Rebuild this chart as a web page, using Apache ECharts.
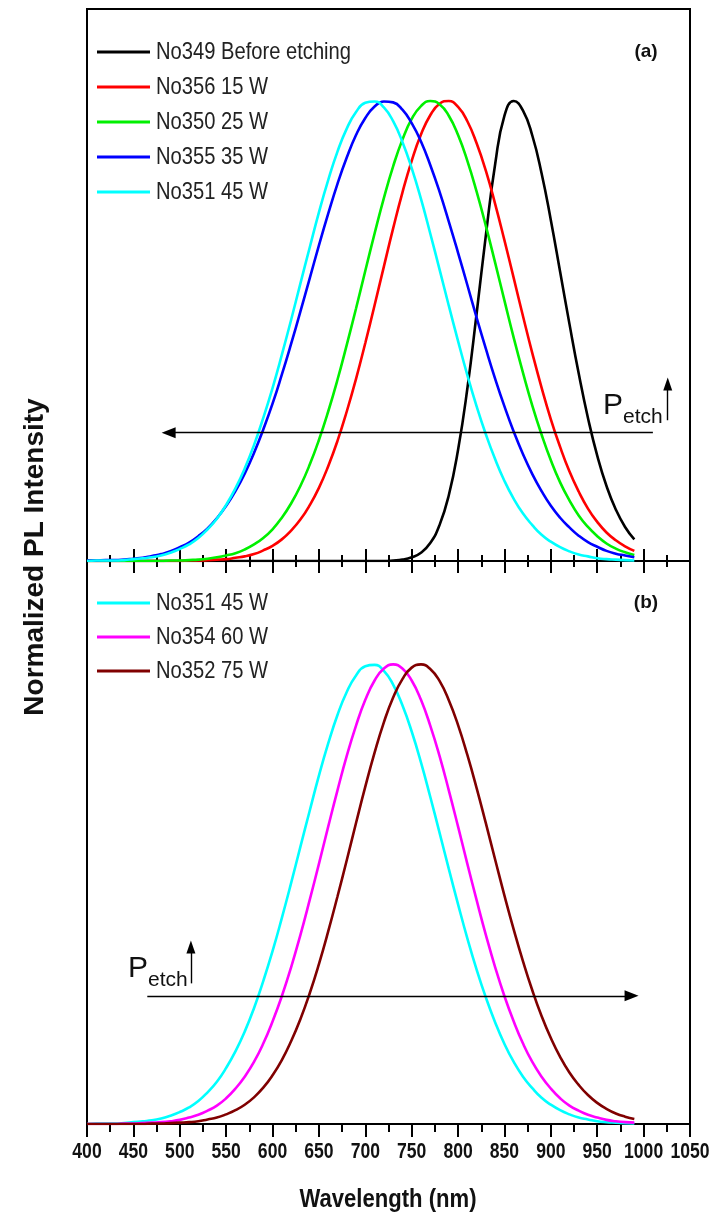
<!DOCTYPE html>
<html>
<head>
<meta charset="utf-8">
<script src="https://cdn.jsdelivr.net/npm/echarts@6/dist/echarts.min.js"></script>
<style>
  html, body { margin: 0; padding: 0; background: #fff; }
  #main { width: 717px; height: 1218px; }
</style>
</head>
<body>
<div id="main"></div>
<script>
// Wavelength samples (nm)
const wavelength = [400,410,420,430,440,450,460,470,480,490,500,510,520,530,540,550,560,570,580,590,
  600,610,620,630,640,650,660,670,680,690,700,710,720,730,740,750,760,770,780,790,
  800,810,820,830,840,850,860,870,880,890,900,910,920,930,940,950,960,970,980,990];

// Normalized PL spectra, panel (a)
const no349 = [0,0,0,0,0,0,0,0,0,0,0,0,0,0,0,0,0,0,0,0,
  0,0,0,0,0,0,0,0,0,0,0,0.000,0.000,0.001,0.003,0.008,0.018,0.039,0.078,0.143,
  0.242,0.375,0.538,0.709,0.863,0.968,1.000,0.979,0.925,0.843,0.741,0.629,0.516,0.408,0.311,0.229,0.163,0.112,0.074,0.047];
const no356 = [0,0,0,0,0,0,0,0,0,0,0.000,0.001,0.001,0.002,0.003,0.004,0.007,0.010,0.015,0.023,
  0.033,0.047,0.066,0.090,0.121,0.159,0.206,0.261,0.325,0.396,0.474,0.556,0.640,0.723,0.801,0.870,0.927,0.969,0.994,1.000,
  0.987,0.956,0.908,0.848,0.776,0.697,0.615,0.532,0.452,0.377,0.308,0.248,0.195,0.151,0.114,0.085,0.062,0.045,0.032,0.022];
const no350 = [0,0,0,0,0,0,0,0.000,0.000,0.001,0.001,0.002,0.003,0.005,0.008,0.012,0.017,0.025,0.036,0.050,
  0.069,0.094,0.125,0.163,0.209,0.263,0.325,0.394,0.470,0.549,0.631,0.712,0.789,0.858,0.916,0.961,0.989,1.000,0.993,0.968,
  0.926,0.870,0.803,0.728,0.648,0.566,0.485,0.409,0.338,0.275,0.219,0.171,0.132,0.099,0.074,0.054,0.038,0.027,0.019,0.013];
const no355 = [0.001,0.001,0.002,0.002,0.003,0.005,0.007,0.011,0.015,0.021,0.030,0.040,0.054,0.071,0.093,0.120,0.152,0.190,0.235,0.286,
  0.342,0.405,0.472,0.542,0.614,0.686,0.755,0.820,0.877,0.926,0.963,0.988,0.999,0.997,0.981,0.952,0.912,0.861,0.803,0.738,
  0.670,0.600,0.529,0.461,0.396,0.336,0.281,0.232,0.189,0.152,0.120,0.094,0.073,0.055,0.041,0.031,0.022,0.016,0.012,0.008];
const no351 = [0.000,0.001,0.001,0.001,0.002,0.004,0.006,0.008,0.012,0.018,0.026,0.036,0.050,0.069,0.092,0.122,0.158,0.201,0.252,0.311,
  0.376,0.448,0.524,0.603,0.681,0.758,0.828,0.890,0.940,0.976,0.996,0.999,0.986,0.956,0.911,0.854,0.787,0.712,0.634,0.555,
  0.478,0.404,0.336,0.275,0.221,0.174,0.135,0.103,0.078,0.057,0.042,0.030,0.021,0.014,0.010,0.006,0.004,0.003,0.002,0.001];

// Normalized PL spectra, panel (b)
const no354 = [0.000,0.000,0.000,0.000,0.001,0.001,0.002,0.003,0.004,0.006,0.009,0.014,0.020,0.029,0.040,0.056,0.077,0.103,0.135,0.175,
  0.223,0.278,0.341,0.411,0.487,0.566,0.647,0.726,0.801,0.867,0.923,0.965,0.991,1.000,0.991,0.965,0.923,0.867,0.801,0.726,
  0.647,0.566,0.487,0.411,0.341,0.278,0.223,0.175,0.135,0.103,0.077,0.056,0.040,0.029,0.020,0.014,0.009,0.006,0.004,0.003];
const no352 = [0,0,0,0,0,0,0,0.001,0.001,0.002,0.003,0.004,0.006,0.010,0.014,0.021,0.030,0.042,0.058,0.079,
  0.106,0.139,0.180,0.228,0.284,0.348,0.419,0.495,0.574,0.655,0.734,0.808,0.874,0.928,0.968,0.993,1.000,0.990,0.964,0.922,
  0.868,0.803,0.731,0.654,0.575,0.497,0.423,0.354,0.291,0.235,0.187,0.146,0.112,0.085,0.063,0.046,0.033,0.023,0.016,0.011];

const namesA = ['No349 Before etching', 'No356 15 W', 'No350 25 W', 'No355 35 W', 'No351 45 W'];
const namesB = ['No351 45 W', 'No354 60 W', 'No352 75 W'];

// x-axis tick labels (nm)
const xTicks = [400,450,500,550,600,650,700,750,800,850,900,950,1000,1050];

// arrow annotations, in data units
const arrowA = { from: [1010, 0.279], to: [488, 0.279], up: [1026, 0.306, 0.385] };
const arrowB = { from: [465, 0.279], to: [987, 0.279], up: [512, 0.306, 0.385] };

const pairs = arr => wavelength.map((w, i) => [w, arr[i]]);

const SANS = "'Liberation Sans', Arial, sans-serif";
const NARROW_SCALE = 0.84;   // the lettering is a condensed sans

const xStep = xTicks[1] - xTicks[0];
const xMin = xTicks[0];
const xMax = xTicks[xTicks.length - 1];

function baseX(extra) {
  return Object.assign({
    type: 'value', min: xMin, max: xMax, interval: xStep,
    axisLine: { show: true, onZero: false, lineStyle: { color: '#000', width: 2 } },
    axisTick: { show: true, inside: false, length: 12, lineStyle: { color: '#000', width: 2 } },
    minorTick: { show: true, splitNumber: 2, length: 6, lineStyle: { color: '#000', width: 2 } },
    axisLabel: { show: false },
    splitLine: { show: false },
    minorSplitLine: { show: false }
  }, extra);
}

function arrowLines(a) {
  return {
    silent: true,
    animation: false,
    symbol: ['none', 'triangle'],
    symbolSize: [11, 14],
    label: { show: false },
    emphasis: { disabled: true },
    lineStyle: { color: '#000', width: 1.4, type: 'solid', opacity: 1 },
    data: [
      [{ coord: a.from }, { coord: a.to }],
      [{ coord: [a.up[0], a.up[1]] }, { coord: [a.up[0], a.up[2]], symbolSize: [9, 13] }]
    ]
  };
}

const colorsA = ['#000000', '#ff0000', '#00f000', '#0000ff', '#00ffff'];
const dataA = [no349, no356, no350, no355, no351];
const colorsB = ['#00ffff', '#ff00ff', '#800000'];
const dataB = [no351, no354, no352];

const series = [];
dataA.forEach((d, i) => {
  series.push({
    name: namesA[i], type: 'line', xAxisIndex: 0, yAxisIndex: 0,
    data: pairs(d), color: colorsA[i], showSymbol: false, symbol: 'none',
    smooth: true, lineStyle: { width: 2.6 }, animation: false, silent: true,
    markLine: i === 0 ? arrowLines(arrowA) : undefined
  });
});
dataB.forEach((d, i) => {
  series.push({
    name: namesB[i], type: 'line', xAxisIndex: 2, yAxisIndex: 1,
    data: pairs(d), color: colorsB[i], showSymbol: false, symbol: 'none',
    smooth: true, lineStyle: { width: 2.6 }, animation: false, silent: true,
    markLine: i === 2 ? arrowLines(arrowB) : undefined
  });
});

// condensed text helper
function narrowText(x, y, text, size, opts) {
  opts = opts || {};
  return {
    type: 'text', x: x, y: y, scaleX: opts.scale || NARROW_SCALE, silent: true,
    style: {
      text: text, x: 0, y: 0, fontFamily: SANS, fontSize: size,
      fontWeight: opts.weight || 'normal', fill: opts.fill || '#222',
      align: opts.align || 'left', verticalAlign: 'middle'
    }
  };
}

// legend rows: sample line + label
function legendRows(names, colors, top, step) {
  const out = [];
  names.forEach((n, i) => {
    const y = top + i * step;
    out.push({ type: 'line', silent: true, shape: { x1: 97, y1: y, x2: 150, y2: y },
      style: { stroke: colors[i], lineWidth: 3 } });
    out.push(narrowText(156, y, n, 24));
  });
  return out;
}

const chart = echarts.init(document.getElementById('main'), null, { renderer: 'canvas' });
chart.setOption({
  backgroundColor: '#fff',
  animation: false,
  grid: [
    { left: 87, right: 27, top: 9, height: 552, show: true, borderColor: '#000', borderWidth: 2, backgroundColor: 'transparent' },
    { left: 87, right: 27, top: 561, height: 563, show: true, borderColor: '#000', borderWidth: 2, backgroundColor: 'transparent' }
  ],
  xAxis: [
    baseX({ gridIndex: 0, position: 'bottom' }),
    baseX({ gridIndex: 1, position: 'top' }),
    baseX({
      gridIndex: 1, position: 'bottom',
      axisTick: { show: true, inside: false, length: 13, lineStyle: { color: '#000', width: 2 } },
      minorTick: { show: true, splitNumber: 2, length: 8, lineStyle: { color: '#000', width: 2 } }
    })
  ],
  yAxis: [
    { type: 'value', gridIndex: 0, min: 0, max: 1.2, show: false },
    { type: 'value', gridIndex: 1, min: 0, max: 1.225, show: false }
  ],
  series: series
});

// tick labels placed through the bottom axis scale
const tickLabels = xTicks.map(v => {
  const px = chart.convertToPixel({ xAxisIndex: 2 }, v);
  return narrowText(px, 1152, String(v), 22, { align: 'center', weight: 'bold', fill: '#111', scale: 0.8 });
});

chart.setOption({
  graphic: [].concat(
    legendRows(namesA, colorsA, 52, 35),
    legendRows(namesB, colorsB, 603, 34),
    tickLabels,
    [
      { type: 'text', x: 35, y: 557, rotation: Math.PI / 2, silent: true,
        style: { text: 'Normalized PL Intensity', fontFamily: SANS, fontWeight: 'bold', fontSize: 28, fill: '#111', align: 'center', verticalAlign: 'middle' } },
      narrowText(388, 1200, 'Wavelength (nm)', 26, { align: 'center', weight: 'bold', fill: '#111', scale: 0.85 }),
      { type: 'text', x: 646, y: 52, silent: true,
        style: { text: '(a)', fontFamily: SANS, fontWeight: 'bold', fontSize: 19, fill: '#111', align: 'center', verticalAlign: 'middle' } },
      { type: 'text', x: 646, y: 603, silent: true,
        style: { text: '(b)', fontFamily: SANS, fontWeight: 'bold', fontSize: 19, fill: '#111', align: 'center', verticalAlign: 'middle' } },
      { type: 'text', x: 603, y: 406, silent: true,
        style: { text: 'P', fontFamily: SANS, fontSize: 30, fill: '#111', align: 'left', verticalAlign: 'middle' } },
      { type: 'text', x: 623, y: 417, silent: true,
        style: { text: 'etch', fontFamily: SANS, fontSize: 21, fill: '#111', align: 'left', verticalAlign: 'middle' } },
      { type: 'text', x: 128, y: 969, silent: true,
        style: { text: 'P', fontFamily: SANS, fontSize: 30, fill: '#111', align: 'left', verticalAlign: 'middle' } },
      { type: 'text', x: 148, y: 980, silent: true,
        style: { text: 'etch', fontFamily: SANS, fontSize: 21, fill: '#111', align: 'left', verticalAlign: 'middle' } }
    ]
  )
});
</script>
</body>
</html>
